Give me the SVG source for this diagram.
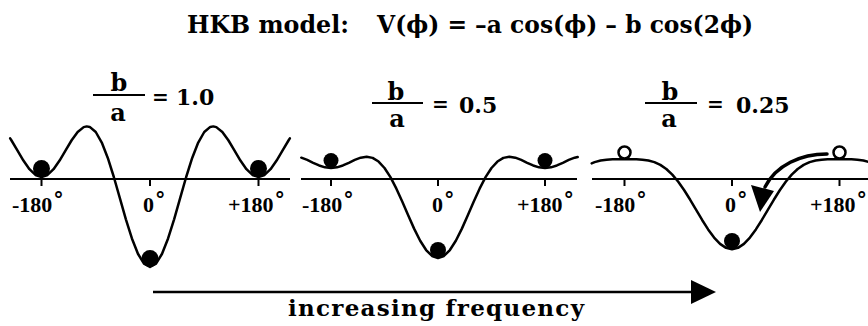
<svg xmlns="http://www.w3.org/2000/svg" width="868" height="326" viewBox="0 0 868 326">
<style>
text{font-family:"DejaVu Serif","Liberation Serif",serif;font-weight:bold;fill:#000}
.title{font-size:24px}
.tick{font-family:"Liberation Serif","DejaVu Serif",serif;font-size:22px}
.frac{font-size:24px}
.eq{font-size:20px}
.num{font-size:22px}
.deg{font-family:"DejaVu Sans","DejaVu Serif",sans-serif;font-size:21px}
.curve{fill:none;stroke:#000;stroke-width:2.5;stroke-linejoin:round;stroke-linecap:round}
.axis{stroke:#000;stroke-width:2;fill:none}
.ball{fill:#000}
.open{fill:#fff;stroke:#000;stroke-width:2.5}
.fl{stroke:#000;stroke-width:2}
</style>
<rect width="868" height="326" fill="#fff"/>
<g id="title">
<text class="title" x="187" y="33" textLength="162" lengthAdjust="spacingAndGlyphs">HKB model:</text>
<text class="title" x="377" y="33" textLength="376" lengthAdjust="spacingAndGlyphs">V(ϕ) = –a cos(ϕ) – b cos(2ϕ)</text>
</g>
<g id="panel1">
<line class="fl" x1="93" y1="95" x2="145" y2="95"/>
<text class="frac" x="119" y="91" text-anchor="middle">b</text>
<text class="frac" x="118" y="121" text-anchor="middle">a</text>
<text class="eq" x="152" y="104">=</text>
<text class="num" x="176" y="105">1.0</text>
<path class="axis" d="M10,179 H290 M41.5,179 V186 M150,179 V186 M258.5,179 V186"/>
<path class="curve" d="M10.15,138.41 L11.36,140.26 L17.38,150.34 L23.41,160.53 L29.44,169.18 L35.47,174.97 L41.5,177 L47.52,174.97 L53.55,169.18 L59.58,160.53 L65.61,150.34 L71.64,140.26 L77.66,132 L83.69,127.14 L86.71,126.38 L89.72,126.9 L95.75,132 L101.78,142.53 L107.8,157.92 L113.83,177 L119.86,198.11 L125.89,219.29 L131.92,238.47 L137.94,253.76 L143.97,263.6 L150,267 L156.03,263.6 L162.06,253.76 L168.08,238.47 L174.11,219.29 L180.14,198.11 L186.17,177 L192.2,157.92 L198.22,142.53 L204.25,132 L210.28,126.9 L213.29,126.38 L216.31,127.14 L222.34,132 L228.36,140.26 L234.39,150.34 L240.42,160.53 L246.45,169.18 L252.48,174.97 L258.5,177 L264.53,174.97 L270.56,169.18 L276.59,160.53 L282.62,150.34 L288.64,140.26 L289.85,138.41"/>
<circle class="ball" cx="41.5" cy="168.5" r="8.5"/>
<circle class="ball" cx="258.5" cy="168.5" r="8.5"/>
<circle class="ball" cx="150" cy="258.5" r="8.5"/>
<text class="tick" x="12" y="212">-180<tspan class="deg" dx="1" dy="-5">°</tspan></text>
<text class="tick" x="143" y="212">0<tspan class="deg" dx="1" dy="-5">°</tspan></text>
<text class="tick" x="228" y="212">+180<tspan class="deg" dx="1" dy="-5">°</tspan></text>
</g>
<g id="panel2">
<line class="fl" x1="372" y1="103" x2="423" y2="103"/>
<text class="frac" x="396" y="100" text-anchor="middle">b</text>
<text class="frac" x="397" y="127" text-anchor="middle">a</text>
<text class="eq" x="432" y="111">=</text>
<text class="num" x="459" y="113">0.5</text>
<path class="axis" d="M301,179 H577 M331,179 V186 M438,179 V186 M545,179 V186"/>
<path class="curve" d="M301.28,157.67 L307.22,159.94 L313.17,162.78 L319.11,165.45 L325.06,167.33 L331,168 L336.94,167.33 L342.89,165.45 L348.83,162.78 L354.78,159.94 L360.72,157.67 L366.67,156.75 L372.61,157.88 L378.56,161.54 L384.5,168 L390.44,177.17 L396.39,188.66 L402.33,201.75 L408.28,215.52 L414.22,228.88 L420.17,240.72 L426.11,250.02 L432.06,255.96 L438,258 L443.94,255.96 L449.89,250.02 L455.83,240.72 L461.78,228.88 L467.72,215.52 L473.67,201.75 L479.61,188.66 L485.56,177.17 L491.5,168 L497.44,161.54 L503.39,157.88 L509.33,156.75 L515.28,157.67 L521.22,159.94 L527.17,162.78 L533.11,165.45 L539.06,167.33 L545,168 L550.94,167.33 L556.89,165.45 L562.83,162.78 L568.78,159.94 L574.72,157.67 L577.69,156.99"/>
<circle class="ball" cx="331" cy="160.5" r="7.5"/>
<circle class="ball" cx="545" cy="160.5" r="7.5"/>
<circle class="ball" cx="438" cy="250" r="8"/>
<text class="tick" x="302" y="212">-180<tspan class="deg" dx="1" dy="-5">°</tspan></text>
<text class="tick" x="432" y="212">0<tspan class="deg" dx="1" dy="-5">°</tspan></text>
<text class="tick" x="517" y="212">+180<tspan class="deg" dx="1" dy="-5">°</tspan></text>
</g>
<g id="panel3">
<line class="fl" x1="645" y1="103" x2="697" y2="103"/>
<text class="frac" x="670" y="100" text-anchor="middle">b</text>
<text class="frac" x="669" y="127" text-anchor="middle">a</text>
<text class="eq" x="707" y="111">=</text>
<text class="num" x="736" y="113">0.25</text>
<path class="axis" d="M592,179 H868 M624.5,179 V186 M732,179 V186 M839.5,179 V186"/>
<path class="curve" d="M591.66,163.34 L594.64,162.12 L600.61,160.48 L606.58,159.66 L612.56,159.33 L618.53,159.25 L624.5,159.25 L630.47,159.25 L636.44,159.33 L642.42,159.66 L648.39,160.48 L654.36,162.12 L660.33,164.88 L666.31,168.99 L672.28,174.62 L678.25,181.75 L684.22,190.24 L690.19,199.77 L696.17,209.88 L702.14,219.97 L708.11,229.42 L714.08,237.6 L720.06,243.9 L726.03,247.89 L732,249.25 L737.97,247.89 L743.94,243.9 L749.92,237.6 L755.89,229.42 L761.86,219.97 L767.83,209.88 L773.81,199.77 L779.78,190.24 L785.75,181.75 L791.72,174.62 L797.69,168.99 L803.67,164.88 L809.64,162.12 L815.61,160.48 L821.58,159.66 L827.56,159.33 L833.53,159.25 L839.5,159.25 L845.47,159.25 L851.44,159.33 L857.42,159.66 L863.39,160.48 L869.36,162.12"/>
<circle class="open" cx="624.5" cy="152.5" r="6"/>
<circle class="open" cx="839.5" cy="152.5" r="6"/>
<circle class="ball" cx="732" cy="241" r="8"/>
<text class="tick" x="595" y="212">-180<tspan class="deg" dx="1" dy="-5">°</tspan></text>
<text class="tick" x="725" y="212">0<tspan class="deg" dx="1" dy="-5">°</tspan></text>
<text class="tick" x="810" y="212">+180<tspan class="deg" dx="1" dy="-5">°</tspan></text>
</g>
<g id="connectors">
<path d="M827,154 C801,154 776,165 765,187" fill="none" stroke="#000" stroke-width="3.5" stroke-linecap="round"/>
<polygon points="751,185 774,191 760,212" fill="#000"/>
<line x1="153" y1="292" x2="694" y2="292" stroke="#000" stroke-width="2.5"/>
<polygon points="691,280 716,292 691,304" fill="#000"/>
</g>
<g id="xlabel">
<text x="288" y="316" font-size="23" textLength="296" lengthAdjust="spacing">increasing frequency</text>
</g>
</svg>
